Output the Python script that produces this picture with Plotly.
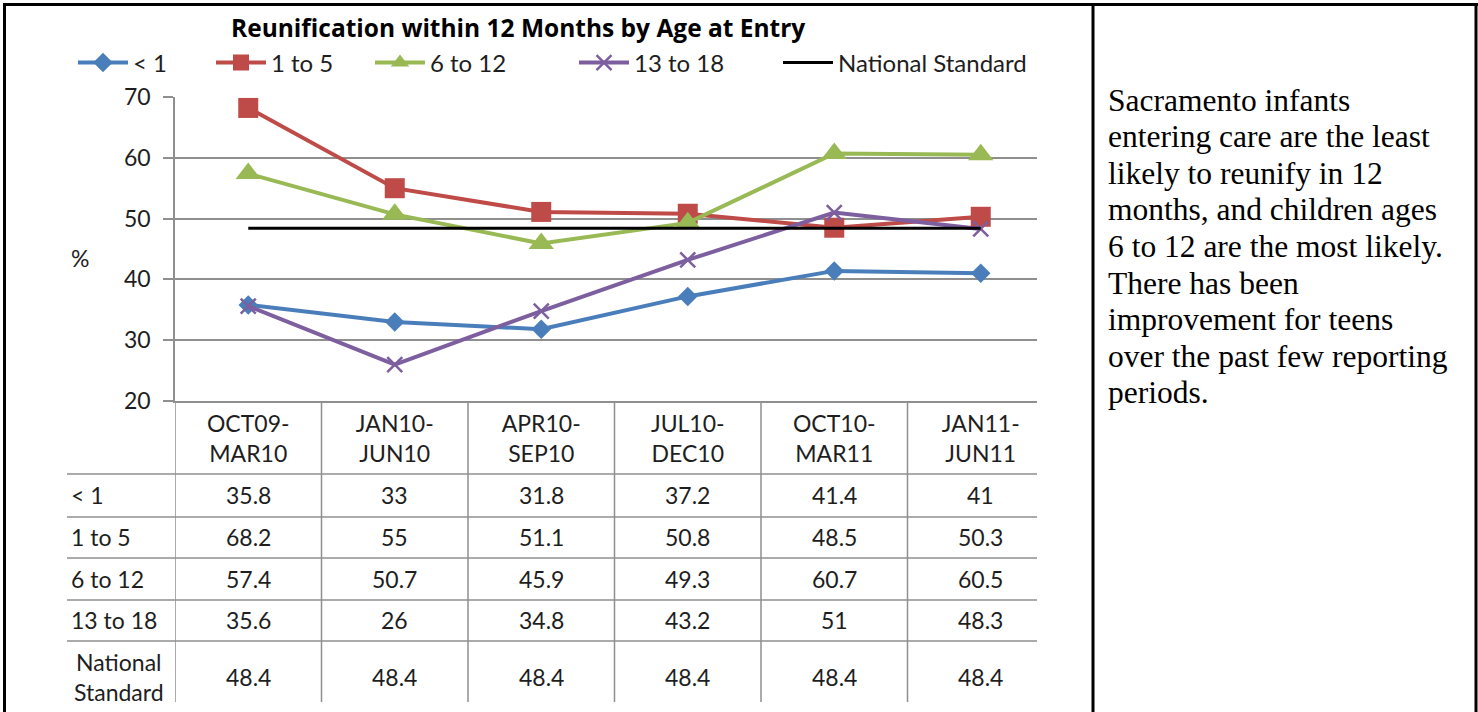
import plotly.graph_objects as go

W, H = 1478, 712

# ---------------- data ----------------
categories = ["OCT09-MAR10", "JAN10-JUN10", "APR10-SEP10", "JUL10-DEC10", "OCT10-MAR11", "JAN11-JUN11"]
under_1 = [35.8, 33, 31.8, 37.2, 41.4, 41]
age_1_to_5 = [68.2, 55, 51.1, 50.8, 48.5, 50.3]
age_6_to_12 = [57.4, 50.7, 45.9, 49.3, 60.7, 60.5]
age_13_to_18 = [35.6, 26, 34.8, 43.2, 51, 48.3]
national_standard = [48.4, 48.4, 48.4, 48.4, 48.4, 48.4]
series_names = ["< 1", "1 to 5", "6 to 12", "13 to 18", "National Standard"]
y_ticks = [20, 30, 40, 50, 60, 70]
chart_title = "Reunification within 12 Months by Age at Entry"
y_label = "%"
note_lines = [
    "Sacramento infants",
    "entering care are the least",
    "likely to reunify in 12",
    "months, and children ages",
    "6 to 12 are the most likely.",
    "There has been",
    "improvement for teens",
    "over the past few reporting",
    "periods.",
]

# ---------------- styles ----------------
series_values = [under_1, age_1_to_5, age_6_to_12, age_13_to_18, national_standard]
colors = ["#4A7EBB", "#BE4B48", "#98B954", "#7D5FA0", "#000000"]
symbols = ["diamond", "square", "triangle-up", "x-thin", None]
msizes = [15, 20, 22, 15, 0]
lwidths = [4, 4, 4, 4, 3]
legend_x_px = [73, 211, 370, 574, 778]

FONT = "Lato"
TXT = "#1e1e1e"
GRID = "#8f8f8f"


def px(x):
    return x / W


def py(y):
    return 1 - y / H


# plot area in pixels
PL, PR, PT, PB = 175, 1037, 97, 401
n_cat = len(categories)
col_w = 146.5
x_hi = -0.5 + (PR - PL) / col_w

fig = go.Figure()

for i, (name, vals) in enumerate(zip(series_names, series_values)):
    leg = "legend" if i == 0 else f"legend{i + 1}"
    if symbols[i] is None:
        fig.add_trace(go.Scatter(
            x=categories, y=vals, name=name, mode="lines",
            line=dict(color=colors[i], width=lwidths[i]), legend=leg,
        ))
    else:
        mk = dict(symbol=symbols[i], size=msizes[i], color=colors[i])
        if symbols[i] == "x-thin":
            mk["line"] = dict(color=colors[i], width=2.5)
        fig.add_trace(go.Scatter(
            x=categories, y=vals, name=name, mode="lines+markers",
            line=dict(color=colors[i], width=lwidths[i]), marker=mk, legend=leg,
        ))

shapes = []
annotations = []

# table vertical lines (category boundaries)
for j in range(n_cat):
    shapes.append(dict(type="line", xref="x", yref="paper",
                       x0=j - 0.5, x1=j - 0.5, y0=py(PB), y1=py(702),
                       line=dict(color=GRID, width=1.5)))
# table horizontal lines
row_lines = [474, 517, 558, 600, 641]
for yl in row_lines:
    shapes.append(dict(type="line", xref="paper", yref="paper",
                       x0=px(67), x1=px(PR), y0=py(yl), y1=py(yl),
                       line=dict(color=GRID, width=1.5)))

# table body text
row_centers = [495, 537, 579, 620, 677]
for r, (name, vals) in enumerate(zip(series_names, series_values)):
    if name.startswith("National"):
        annotations.append(dict(xref="paper", yref="paper", x=px(119), y=py(row_centers[r]),
                                text=name.replace(" ", "<br>"), showarrow=False,
                                xanchor="center", yanchor="middle", align="center",
                                font=dict(family=FONT, size=23, color=TXT)))
    else:
        annotations.append(dict(xref="paper", yref="paper", x=px(69), y=py(row_centers[r]),
                                text=name, showarrow=False, xanchor="left", yanchor="middle",
                                font=dict(family=FONT, size=23, color=TXT)))
    for j, v in enumerate(vals):
        annotations.append(dict(xref="x", yref="paper", x=j, y=py(row_centers[r]),
                                text=f"{v:g}", showarrow=False, xanchor="center", yanchor="middle",
                                font=dict(family=FONT, size=23, color=TXT)))

# y label
annotations.append(dict(xref="paper", yref="paper", x=px(80), y=py(258), text=y_label,
                        showarrow=False, xanchor="center", yanchor="middle",
                        font=dict(family=FONT, size=23, color=TXT)))
# title
annotations.append(dict(xref="paper", yref="paper", x=px(518), y=py(28), text=f"<b>{chart_title}</b>",
                        showarrow=False, xanchor="center", yanchor="middle",
                        font=dict(family="Open Sans", size=24.5, color="#000")))
# note text
for k, line in enumerate(note_lines):
    annotations.append(dict(xref="paper", yref="paper", x=px(1106), y=py(100 + 36.6 * k), text=line,
                            showarrow=False, xanchor="left", yanchor="middle",
                            font=dict(family="Liberation Serif", size=31.5, color="#000")))

# outer document borders
BL = dict(color="#000", width=3)
shapes += [
    dict(type="line", xref="paper", yref="paper", x0=px(4.5), x1=px(4.5), y0=py(3), y1=py(H), line=BL),
    dict(type="line", xref="paper", yref="paper", x0=px(3), x1=px(1478), y0=py(4.5), y1=py(4.5), line=BL),
    dict(type="line", xref="paper", yref="paper", x0=px(1093), x1=px(1093), y0=py(3), y1=py(H), line=BL),
    dict(type="line", xref="paper", yref="paper", x0=px(1476), x1=px(1476), y0=py(3), y1=py(H), line=BL),
]

legends = {}
for i, lx in enumerate(legend_x_px):
    key = "legend" if i == 0 else f"legend{i + 1}"
    legends[key] = dict(x=px(lx), y=py(63), xanchor="left", yanchor="middle",
                        orientation="h", bgcolor="rgba(0,0,0,0)", borderwidth=0,
                        font=dict(family=FONT, size=24, color=TXT), itemwidth=50,
                        tracegroupgap=0)

fig.update_layout(
    width=W, height=H, autosize=False,
    margin=dict(l=0, r=0, t=0, b=0, pad=0, autoexpand=False),
    paper_bgcolor="white", plot_bgcolor="white",
    showlegend=True,
    xaxis=dict(domain=[px(PL), px(PR)], type="category", categoryarray=categories,
               range=[-0.5, x_hi], showgrid=False, zeroline=False, automargin=False,
               showline=True, linecolor=GRID, linewidth=1.5,
               tickvals=categories, ticktext=[c.replace("-", "-<br>") for c in categories],
               ticks="", ticklabelstandoff=2,
               tickfont=dict(family=FONT, size=23, color=TXT)),
    yaxis=dict(domain=[py(PB), py(PT)], range=[20, 70], tickvals=y_ticks, automargin=False,
               showgrid=True, gridcolor=GRID, gridwidth=1.5, zeroline=False,
               showline=True, linecolor=GRID, linewidth=1.5,
               ticks="outside", ticklen=10, tickcolor=GRID, tickwidth=1.5,
               ticklabelstandoff=8,
               tickfont=dict(family=FONT, size=23, color=TXT)),
    shapes=shapes, annotations=annotations,
    **legends,
)

fig.write_html("out.html", config={"displayModeBar": False},
               post_script="document.body.style.margin='0';document.body.style.overflow='hidden';")
